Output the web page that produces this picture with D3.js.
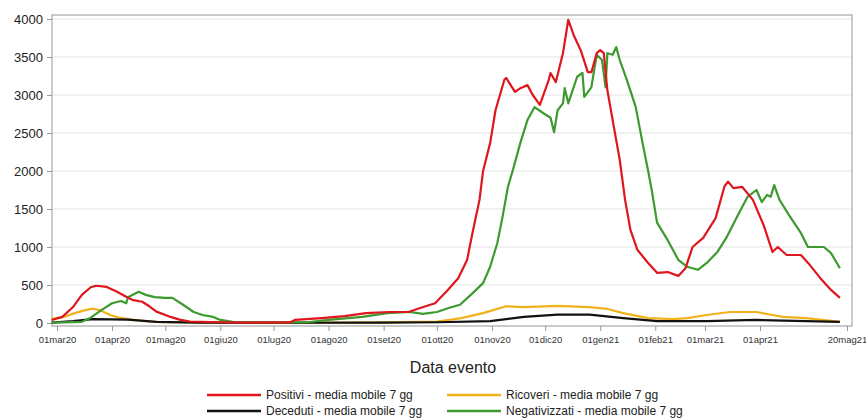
<!DOCTYPE html>
<html><head><meta charset="utf-8">
<script src="https://cdn.jsdelivr.net/npm/d3@7/dist/d3.min.js"></script>
<style>
html,body{margin:0;padding:0;background:#fff;}
svg{display:block;font-family:"Liberation Sans",Arial,sans-serif;}
</style></head><body>
<svg id="chart" width="866" height="418"></svg>
<script>
// ---- data ----
const tickDates = ["2020-03-01","2020-04-01","2020-05-01","2020-06-01","2020-07-01","2020-08-01","2020-09-01","2020-10-01","2020-11-01","2020-12-01","2021-01-01","2021-02-01","2021-03-01","2021-04-01","2021-05-20"];
const tickLabels = ["01mar20","01apr20","01mag20","01giu20","01lug20","01ago20","01set20","01ott20","01nov20","01dic20","01gen21","01feb21","01mar21","01apr21","20mag21"];
const yTicks = [0,500,1000,1500,2000,2500,3000,3500,4000];

const positiviDates = ["2020-02-27","2020-03-04","2020-03-10","2020-03-15","2020-03-20","2020-03-23","2020-03-29","2020-04-03","2020-04-09","2020-04-13","2020-04-18","2020-04-22","2020-04-26","2020-05-04","2020-05-09","2020-05-15","2020-06-01","2020-06-20","2020-07-10","2020-07-13","2020-07-28","2020-08-10","2020-08-22","2020-09-04","2020-09-15","2020-09-22","2020-09-30","2020-10-07","2020-10-13","2020-10-18","2020-10-21","2020-10-25","2020-10-27","2020-10-31","2020-11-03","2020-11-08","2020-11-09","2020-11-14","2020-11-17","2020-11-21","2020-11-24","2020-11-28","2020-12-03","2020-12-04","2020-12-07","2020-12-11","2020-12-14","2020-12-17","2020-12-21","2020-12-25","2020-12-27","2020-12-30","2021-01-01","2021-01-03","2021-01-05","2021-01-08","2021-01-12","2021-01-15","2021-01-18","2021-01-22","2021-01-28","2021-02-02","2021-02-08","2021-02-14","2021-02-18","2021-02-22","2021-02-28","2021-03-07","2021-03-12","2021-03-14","2021-03-17","2021-03-22","2021-03-28","2021-04-03","2021-04-08","2021-04-11","2021-04-16","2021-04-24","2021-04-29","2021-05-05","2021-05-11","2021-05-16"];
const positiviValues = [40,80,210,370,470,490,475,420,345,300,280,220,150,80,45,20,10,5,8,40,65,90,130,145,145,200,260,430,590,830,1180,1620,2000,2370,2800,3200,3225,3040,3090,3130,3000,2870,3200,3290,3170,3550,3990,3790,3590,3300,3300,3550,3590,3550,3065,2670,2145,1620,1225,960,790,660,670,620,720,1000,1120,1380,1800,1860,1775,1790,1620,1290,935,1000,895,895,765,590,435,330];

const negativizzatiDates = ["2020-02-27","2020-03-15","2020-03-20","2020-03-26","2020-04-01","2020-04-06","2020-04-09","2020-04-10","2020-04-16","2020-04-20","2020-04-25","2020-05-01","2020-05-05","2020-05-11","2020-05-17","2020-05-22","2020-05-28","2020-06-01","2020-06-08","2020-07-01","2020-07-20","2020-08-01","2020-08-20","2020-09-03","2020-09-16","2020-09-23","2020-10-01","2020-10-08","2020-10-14","2020-10-21","2020-10-27","2020-10-31","2020-11-04","2020-11-07","2020-11-10","2020-11-13","2020-11-17","2020-11-21","2020-11-25","2020-11-30","2020-12-04","2020-12-06","2020-12-08","2020-12-11","2020-12-12","2020-12-14","2020-12-19","2020-12-22","2020-12-23","2020-12-27","2020-12-30","2021-01-02","2021-01-04","2021-01-05","2021-01-08","2021-01-10","2021-01-12","2021-01-16","2021-01-21","2021-01-25","2021-01-28","2021-01-30","2021-02-02","2021-02-08","2021-02-14","2021-02-19","2021-02-25","2021-03-02","2021-03-08","2021-03-13","2021-03-19","2021-03-25","2021-03-30","2021-04-02","2021-04-05","2021-04-07","2021-04-09","2021-04-12","2021-04-18","2021-04-24","2021-04-28","2021-05-03","2021-05-07","2021-05-11","2021-05-16"];
const negativizzatiValues = [5,15,70,170,260,290,260,340,410,370,340,330,330,240,145,105,80,40,15,8,10,40,80,130,145,120,145,200,240,390,525,740,1050,1400,1790,2030,2370,2670,2840,2760,2700,2510,2800,2890,3090,2890,3240,3290,2975,3100,3530,3460,3100,3550,3530,3630,3460,3200,2840,2350,2000,1750,1320,1090,830,740,700,790,935,1120,1395,1660,1750,1590,1685,1660,1815,1620,1395,1185,1000,1000,1000,920,720];

const ricoveriDates = ["2020-02-27","2020-03-05","2020-03-11","2020-03-17","2020-03-21","2020-03-25","2020-03-31","2020-04-05","2020-04-13","2020-04-22","2020-05-01","2020-06-01","2020-08-01","2020-09-01","2020-10-01","2020-10-14","2020-10-27","2020-11-09","2020-11-19","2020-12-08","2020-12-26","2021-01-05","2021-01-14","2021-01-28","2021-02-11","2021-02-19","2021-03-02","2021-03-15","2021-03-30","2021-04-08","2021-04-14","2021-04-27","2021-05-16"];
const ricoveriValues = [55,80,130,170,190,170,105,70,40,20,10,5,5,8,20,60,130,220,210,225,210,185,130,65,50,65,105,145,145,105,80,65,15];

const decedutiDates = ["2020-02-27","2020-03-10","2020-03-21","2020-04-10","2020-04-26","2020-05-20","2020-07-01","2020-09-01","2020-10-01","2020-10-31","2020-11-19","2020-12-08","2020-12-26","2021-01-14","2021-02-02","2021-03-02","2021-03-30","2021-04-27","2021-05-16"];
const decedutiValues = [5,25,50,45,15,5,3,4,10,25,80,110,110,65,25,25,40,25,15];

const seriesNames = ["Positivi - media mobile 7 gg","Ricoveri - media mobile 7 gg","Deceduti - media mobile 7 gg","Negativizzati - media mobile 7 gg"];
const seriesColors = ["#e0161e","#f2b21c","#111111","#3c9a2e"];

// ---- chart ----
const parse = d3.timeParse("%Y-%m-%d");
const svg = d3.select("#chart");
const frame = {left:52, right:852, top:15, bottom:326};
const x = d3.scaleTime().domain([parse("2020-03-01"), parse("2021-05-20")]).range([57, 847]);
const y = d3.scaleLinear().domain([0,4000]).range([323, 19]);

// grid
svg.append("g").selectAll("line").data(yTicks.slice(1)).join("line")
  .attr("x1", frame.left).attr("x2", frame.right)
  .attr("y1", d=>y(d)).attr("y2", d=>y(d))
  .attr("stroke", "#e4e4e4").attr("stroke-width", 1.2);

// frame
svg.append("rect").attr("x", frame.left).attr("y", frame.top)
  .attr("width", frame.right-frame.left).attr("height", frame.bottom-frame.top)
  .attr("fill","none").attr("stroke","#b4b4b4").attr("stroke-width",1.4);

// y axis
const yAxis = d3.axisLeft(y).tickValues(yTicks).tickSize(5).tickPadding(4).tickFormat(d3.format("d"));
const gy = svg.append("g").attr("transform", `translate(${frame.left},0)`).call(yAxis);
gy.select(".domain").remove();
gy.selectAll("line").attr("stroke","#999");
gy.selectAll("text").attr("font-size","13px").attr("fill","#222").attr("font-family","'Liberation Sans',Arial,sans-serif");

// x axis
const xAxis = d3.axisBottom(x).tickValues(tickDates.map(parse)).tickSize(5).tickPadding(5)
  .tickFormat((d,i)=>tickLabels[i]);
const gx = svg.append("g").attr("transform", `translate(0,${frame.bottom})`).call(xAxis);
gx.select(".domain").remove();
gx.selectAll("line").attr("stroke","#999");
gx.selectAll("text").attr("font-size","9.5px").attr("fill","#333").attr("font-family","'Liberation Sans',Arial,sans-serif");

svg.append("text").attr("x", 453).attr("y", 373).attr("text-anchor","middle")
  .attr("font-size","16px").attr("fill","#222").text("Data evento");

// lines
const line = d3.line().x(d=>x(d[0])).y(d=>y(d[1]));
const series = [
  {dates: ricoveriDates, values: ricoveriValues, color: seriesColors[1]},
  {dates: decedutiDates, values: decedutiValues, color: seriesColors[2]},
  {dates: negativizzatiDates, values: negativizzatiValues, color: seriesColors[3]},
  {dates: positiviDates, values: positiviValues, color: seriesColors[0]}
];
series.forEach(s=>{
  const pts = s.dates.map((d,i)=>[parse(d), s.values[i]]);
  svg.append("path").datum(pts).attr("d", line)
    .attr("fill","none").attr("stroke", s.color).attr("stroke-width", 2.2)
    .attr("stroke-linejoin","round");
});

// legend
const legendItems = [
  {name: seriesNames[0], color: seriesColors[0], lx: 207, ly: 395},
  {name: seriesNames[1], color: seriesColors[1], lx: 447, ly: 395},
  {name: seriesNames[2], color: seriesColors[2], lx: 207, ly: 411},
  {name: seriesNames[3], color: seriesColors[3], lx: 447, ly: 411}
];
const lg = svg.append("g");
legendItems.forEach(it=>{
  lg.append("line").attr("x1", it.lx).attr("x2", it.lx+54).attr("y1", it.ly).attr("y2", it.ly)
    .attr("stroke", it.color).attr("stroke-width", 2.4);
  lg.append("text").attr("x", it.lx+59).attr("y", it.ly+4).attr("font-size","12px").attr("fill","#222").text(it.name);
});
</script>
</body></html>
